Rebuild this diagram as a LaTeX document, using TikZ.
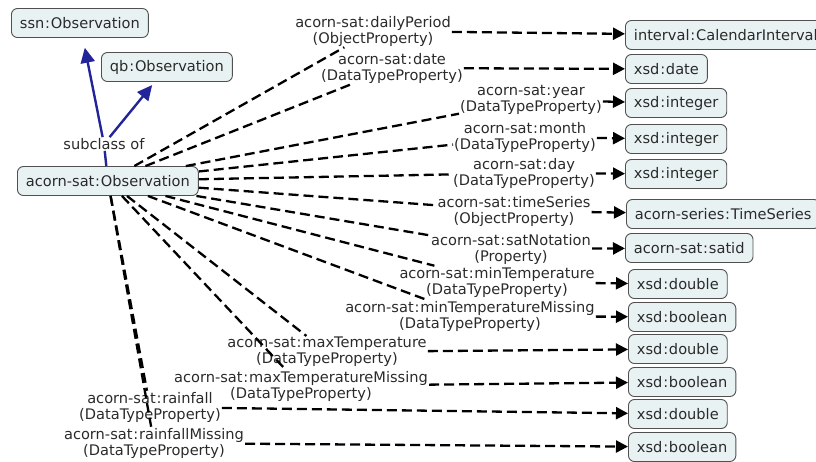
\documentclass[tikz,border=0pt]{standalone}
\usepackage{fontspec}
\setmainfont{DejaVu Sans}
\usetikzlibrary{arrows.meta}
\definecolor{boxfill}{HTML}{E9F2F3}
\definecolor{boxdraw}{HTML}{505050}
\definecolor{subblue}{HTML}{23239A}
\definecolor{txt}{HTML}{2A2A2A}
\newcommand\cx{\kern0.8pt:\kern0.8pt}
\begin{document}
\begin{tikzpicture}[x=1pt,y=-1pt,
  every node/.style={font=\fontsize{14.6}{16}\selectfont, text=txt},
  concept/.style={draw=boxdraw, fill=boxfill, rounded corners=6pt, line width=0.9pt,
    minimum height=29pt, inner xsep=8.5pt, inner ysep=2pt, anchor=west},
  relab/.style={align=center, inner sep=1pt},
  linkline/.style={line width=2.3pt, dash pattern=on 10pt off 5pt},
  linkarrow/.style={linkline, -{Triangle[length=12pt,width=12pt]}},
  subline/.style={draw=subblue, line width=2.4pt},
  subarrow/.style={subline, -{Triangle[length=15pt,width=14pt]}, shorten >=2pt}]
\useasboundingbox (0,0) rectangle (816,461);

% concepts on the left
\node[concept] (ssn) at (11,23) {ssn\cx Observation};
\node[concept] (qb) at (101,67) {qb\cx Observation};
\node[concept] (obs) at (17,181) {acorn-sat\cx Observation};
\node[inner sep=1pt] (subc) at (104,144) {subclass of};

% concepts on the right
\node[concept] (cal) at (625,35) {interval\cx CalendarInterval};
\node[concept] (date) at (625,69) {xsd\cx date};
\node[concept] (int1) at (625,103) {xsd\cx integer};
\node[concept] (int2) at (625,139) {xsd\cx integer};
\node[concept] (int3) at (625,174) {xsd\cx integer};
\node[concept] (ts) at (626,214) {acorn-series\cx TimeSeries};
\node[concept] (satid) at (625,248) {acorn-sat\cx satid};
\node[concept] (dbl1) at (628,284) {xsd\cx double};
\node[concept] (bool1) at (628,317) {xsd\cx boolean};
\node[concept] (dbl2) at (628,349) {xsd\cx double};
\node[concept] (bool2) at (628,382) {xsd\cx boolean};
\node[concept] (dbl3) at (628,414) {xsd\cx double};
\node[concept] (bool3) at (628,447) {xsd\cx boolean};

% relation labels
\node[relab] (rdp) at (373,31) {acorn-sat\cx dailyPeriod\\(ObjectProperty)};
\node[relab] (rdate) at (392,68) {acorn-sat\cx date\\(DataTypeProperty)};
\node[relab] (ryear) at (531,100) {acorn-sat\cx year\\(DataTypeProperty)};
\node[relab] (rmonth) at (525,137) {acorn-sat\cx month\\(DataTypeProperty)};
\node[relab] (rday) at (524,173) {acorn-sat\cx day\\(DataTypeProperty)};
\node[relab] (rts) at (514,211) {acorn-sat\cx timeSeries\\(ObjectProperty)};
\node[relab] (rsn) at (511,249) {acorn-sat\cx satNotation\\(Property)};
\node[relab] (rmint) at (497,282) {acorn-sat\cx minTemperature\\(DataTypeProperty)};
\node[relab] (rmintm) at (470,316) {acorn-sat\cx minTemperatureMissing\\(DataTypeProperty)};
\node[relab] (rmaxt) at (327,352) {acorn-sat\cx maxTemperature\\(DataTypeProperty)};
\node[relab] (rmaxtm) at (301,386) {acorn-sat\cx maxTemperatureMissing\\(DataTypeProperty)};
\node[relab] (rrain) at (150,407) {acorn-sat\cx rainfall\\(DataTypeProperty)};
\node[relab] (rrainm) at (154,443) {acorn-sat\cx rainfallMissing\\(DataTypeProperty)};

% subclass links
\draw[subline] (obs) -- (subc);
\draw[subarrow, shorten >=10pt] (subc) -- (ssn);
\draw[subarrow, shorten >=4pt] (subc) -- (qb);

% property links
\foreach \r/\t in {rdp/cal, rdate/date, ryear/int1, rmonth/int2, rday/int3,
  rts/ts, rsn/satid, rmint/dbl1, rmintm/bool1, rmaxt/dbl2, rmaxtm/bool2,
  rrain/dbl3, rrainm/bool3}{
  \draw[linkline] (obs) -- (\r);
  \draw[linkarrow] (\r) -- (\t);
}
\end{tikzpicture}
\end{document}
